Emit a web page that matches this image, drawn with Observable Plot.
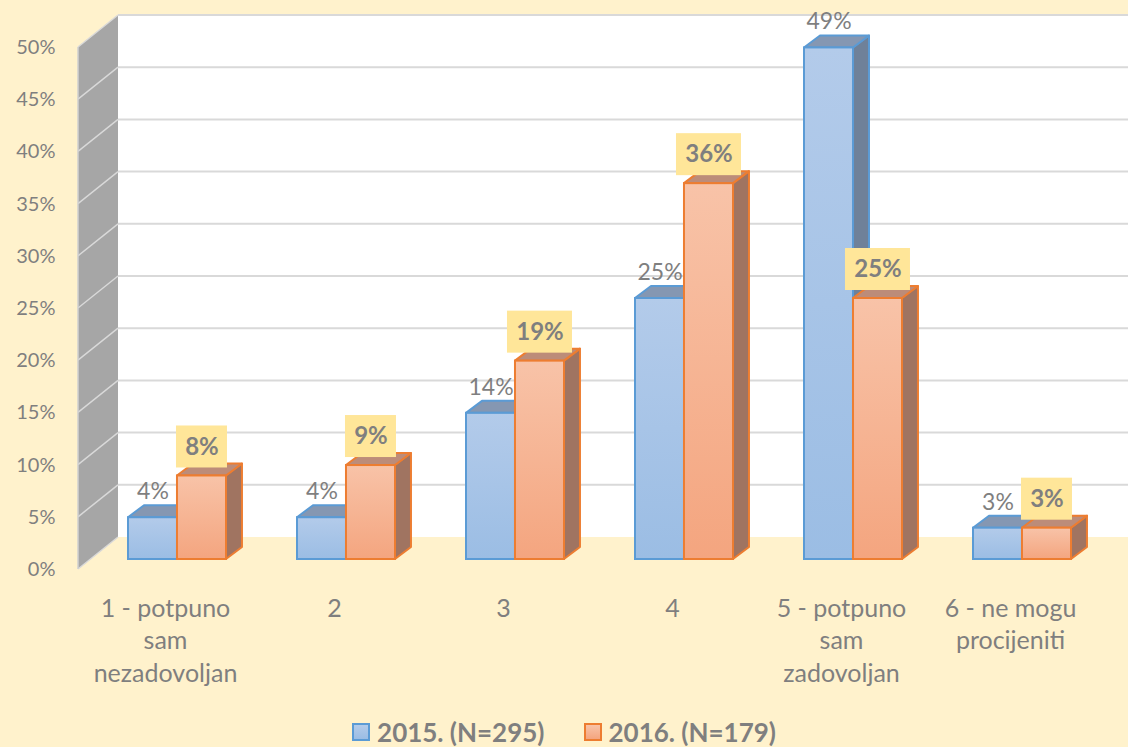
<!DOCTYPE html>
<html><head><meta charset="utf-8">
<script src="https://cdn.jsdelivr.net/npm/d3@7"></script>
<script src="https://cdn.jsdelivr.net/npm/@observablehq/plot@0.6"></script>
<style>
html,body{margin:0;padding:0;background:#FFF2CC;}
body{width:1128px;height:747px;overflow:hidden;font-family:Lato, sans-serif;}
#chart svg{display:block;}
#legend{height:47px;box-sizing:border-box;padding-top:17px;display:flex;justify-content:center;align-items:center;gap:39px;color:#7F7F7F;font-weight:bold;font-size:26px;font-family:Lato, sans-serif;}
.item{display:flex;align-items:center;gap:7px;}
.sw{width:14px;height:14px;border:2px solid;}
</style></head><body>
<div id="chart"></div>
<div id="legend"></div>
<script>
// ---- data ----
const categories = ["1 - potpuno\nsam\nnezadovoljan", "2", "3", "4", "5 - potpuno\nsam\nzadovoljan", "6 - ne mogu\nprocijeniti"];
const seriesNames = ["2015. (N=295)", "2016. (N=179)"];
const values2015 = [4, 4, 14, 25, 49, 3];
const values2016 = [8, 9, 19, 36, 25, 3];
const yTicks = [0, 5, 10, 15, 20, 25, 30, 35, 40, 45, 50];

const data = categories.map((c, i) => ({cat: c, v2015: values2015[i], v2016: values2016[i]}));

// ---- layout / style ----
const W = 1128, H = 700;
const PAD = 0.422;
const XRANGE = [43, 1131.5];
const step = (XRANGE[1] - XRANGE[0]) / (categories.length + PAD);
const bw = step * (1 - PAD);
const BAR_DX = 12, BAR_DY = -10;     // bars sit slightly behind the front plane
const DX = 16, DY = -12;             // bar depth
const WALL_DX = 40, WALL_DY = -32;   // wall depth
const WALL_X = 78;

const col = {
  blue: {stroke: "#5B9BD5", top: "#8597B2", side: "#6F8199", g0: "#B3CBEA", g1: "#9BBDE4"},
  orange: {stroke: "#ED7D31", top: "#BC8C79", side: "#A07461", g0: "#F8C3A8", g1: "#F4A57F"}
};

function walls(index, scales, values, dim) {
  const {y} = scales;
  const g = d3.create("svg:g");
  const defs = g.append("defs");
  for (const [id, c] of [["gBlue", col.blue], ["gOrange", col.orange]]) {
    const lg = defs.append("linearGradient").attr("id", id).attr("x1", 0).attr("y1", 0).attr("x2", 0).attr("y2", 1);
    lg.append("stop").attr("offset", "0%").attr("stop-color", c.g0);
    lg.append("stop").attr("offset", "100%").attr("stop-color", c.g1);
  }
  const xb = WALL_X + WALL_DX, xr = dim.width;
  const top = y(50), bot = y(0);
  g.append("rect").attr("x", xb).attr("y", top + WALL_DY).attr("width", xr - xb).attr("height", bot - top).attr("fill", "white");
  g.append("path").attr("d", `M${WALL_X},${top}L${xb},${top + WALL_DY}L${xb},${bot + WALL_DY}L${WALL_X},${bot}Z`).attr("fill", "#A6A6A6");
  for (const t of yTicks) {
    const yy = y(t);
    if (t > 0) g.append("line").attr("x1", xb).attr("x2", xr).attr("y1", yy + WALL_DY).attr("y2", yy + WALL_DY).attr("stroke", "#D9D9D9").attr("stroke-width", 2);
    g.append("line").attr("x1", WALL_X).attr("x2", xb).attr("y1", yy).attr("y2", yy + WALL_DY).attr("stroke", "#D9D9D9").attr("stroke-width", 1.5);
  }
  g.append("line").attr("x1", WALL_X).attr("x2", WALL_X).attr("y1", top).attr("y2", bot).attr("stroke", "#D0D0D0").attr("stroke-width", 1.5);
  return g.node();
}

function faces(key, offset, c) {
  return (index, scales) => {
    const {x, y} = scales;
    const g = d3.create("svg:g").attr("stroke", c.stroke).attr("stroke-width", 2).attr("stroke-linejoin", "round");
    for (const d of data) {
      const xl = x(d.cat) + offset + BAR_DX, xr = xl + bw / 2;
      const yt = y(d[key]) + BAR_DY, yb = y(0) + BAR_DY;
      g.append("path").attr("fill", c.side).attr("d", `M${xr},${yt}L${xr + DX},${yt + DY}L${xr + DX},${yb + DY}L${xr},${yb}Z`);
      g.append("path").attr("fill", c.top).attr("d", `M${xl},${yt}L${xl + DX},${yt + DY}L${xr + DX},${yt + DY}L${xr},${yt}Z`);
    }
    return g.node();
  };
}

function labelBoxes(index, scales) {
  const {x, y} = scales;
  const g = d3.create("svg:g").attr("fill", "#FFE699");
  for (const d of data) {
    const cx = x(d.cat) + 3 * bw / 4 + BAR_DX;
    const cy = y(d.v2016) + BAR_DY - 29;
    const w = 23 + 14 * String(d.v2016 + "%").length, h = 42;
    g.append("rect").attr("x", cx - w / 2).attr("y", cy - h / 2).attr("width", w).attr("height", h);
  }
  return g.node();
}

const chart = Plot.plot({
  width: W, height: H,
  marginLeft: 58, marginRight: 0, marginTop: 16, marginBottom: 130,
  style: {fontFamily: "Lato, sans-serif", background: "transparent", color: "#7F7F7F", overflow: "visible"},
  x: {domain: categories, range: XRANGE, padding: PAD, axis: null},
  y: {domain: [0, 50], range: [569, 47], axis: null},
  marks: [
    walls,
    Plot.axisY({ticks: yTicks, tickFormat: d => d + "%", tickSize: 0, tickPadding: 3, fontSize: 20, label: null}),
    faces("v2015", 0, col.blue),
    Plot.barY(data, {x: "cat", y: "v2015", insetRight: bw / 2, fill: "url(#gBlue)", stroke: col.blue.stroke, strokeWidth: 2, dx: BAR_DX, dy: BAR_DY}),
    faces("v2016", bw / 2, col.orange),
    Plot.barY(data, {x: "cat", y: "v2016", insetLeft: bw / 2, fill: "url(#gOrange)", stroke: col.orange.stroke, strokeWidth: 2, dx: BAR_DX, dy: BAR_DY}),
    Plot.text(data, {x: "cat", y: "v2015", text: d => d.v2015 + "%", dx: BAR_DX - bw / 4, dy: BAR_DY - 26, fontSize: 23, fill: "#7F7F7F"}),
    labelBoxes,
    Plot.text(data, {x: "cat", y: "v2016", text: d => d.v2016 + "%", dx: BAR_DX + bw / 4, dy: BAR_DY - 29, fontSize: 24, fontWeight: "bold", fill: "#7F7F7F"}),
    Plot.text(data, {x: "cat", y: () => 0, text: "cat", dy: 24, lineAnchor: "top", lineHeight: 1.3, fontSize: 25, fill: "#7F7F7F"})
  ]
});
document.getElementById("chart").appendChild(chart);

const legend = document.getElementById("legend");
[[seriesNames[0], col.blue], [seriesNames[1], col.orange]].forEach(([name, c]) => {
  const it = document.createElement("div"); it.className = "item";
  const sw = document.createElement("div"); sw.className = "sw";
  sw.style.background = `linear-gradient(${c.g0}, ${c.g1})`; sw.style.borderColor = c.stroke;
  const tx = document.createElement("span"); tx.textContent = name;
  it.appendChild(sw); it.appendChild(tx); legend.appendChild(it);
});
</script>
</body></html>
